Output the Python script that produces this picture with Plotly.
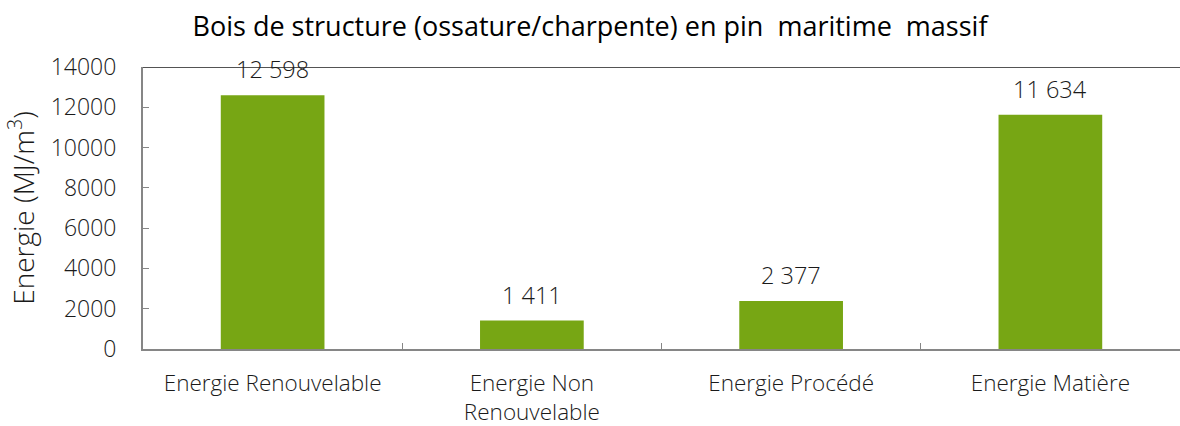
import plotly.graph_objects as go

categories = ["Energie Renouvelable", "Energie Non<br>Renouvelable", "Energie Procédé", "Energie Matière"]
values = [12598, 1411, 2377, 11634]
y_ticks = [0, 2000, 4000, 6000, 8000, 10000, 12000, 14000]

BAR_COLOR = "#77A614"
AXIS_COLOR = "#868686"
FONT = "Open Sans"
TEXT_COLOR = "#1a1a1a"


def fr_thousands(v):
    return f"{v:,}".replace(",", " ")


fig = go.Figure()
fig.add_trace(go.Bar(
    x=categories,
    y=values,
    marker=dict(color=BAR_COLOR, line=dict(width=0)),
    hoverinfo="skip",
))

# value labels above each bar
for cat, v in zip(categories, values):
    fig.add_annotation(
        x=cat, y=v, text=fr_thousands(v), showarrow=False,
        yanchor="middle", yshift=26,
        font=dict(family=FONT, size=23.5, color=TEXT_COLOR, weight=300),
    )

# dark line along the top of the plot area
fig.add_shape(
    type="line", xref="paper", yref="y", x0=0, x1=1, y0=14000, y1=14000,
    line=dict(color="#1a1a1a", width=1.5), layer="below",
)

fig.update_layout(
    width=1180, height=426,
    margin=dict(l=143, r=0, t=67, b=77),
    paper_bgcolor="white", plot_bgcolor="white",
    bargap=0.6,
    showlegend=False,
    title=dict(
        text="Bois de structure (ossature/charpente) en pin  maritime  massif",
        x=0.5, xanchor="center", y=1 - 27 / 426, yanchor="middle",
        font=dict(family=FONT, size=27, color="black"),
    ),
    font=dict(family=FONT, color=TEXT_COLOR),
)

fig.update_xaxes(
    automargin=False,
    showline=True, linecolor=AXIS_COLOR, linewidth=2,
    ticks="inside", tickson="boundaries", ticklen=6, tickcolor=AXIS_COLOR, tickwidth=1,
    ticklabelstandoff=13,
    tickfont=dict(family=FONT, size=22.5, color=TEXT_COLOR, weight=300),
    showgrid=False,
)

fig.update_yaxes(
    automargin=False,
    range=[0, 14000],
    tickvals=y_ticks, ticktext=[str(t) for t in y_ticks],
    showline=True, linecolor=AXIS_COLOR, linewidth=2,
    ticks="inside", ticklen=6, tickcolor=AXIS_COLOR, tickwidth=1,
    ticklabelstandoff=20,
    tickfont=dict(family=FONT, size=23, color=TEXT_COLOR, weight=300),
    showgrid=False, zeroline=False,
    title=dict(text="Energie (MJ/m<sup>3</sup>)", standoff=8,
               font=dict(family=FONT, size=28, color=TEXT_COLOR, weight=300)),
)

fig.write_html("out.html")
